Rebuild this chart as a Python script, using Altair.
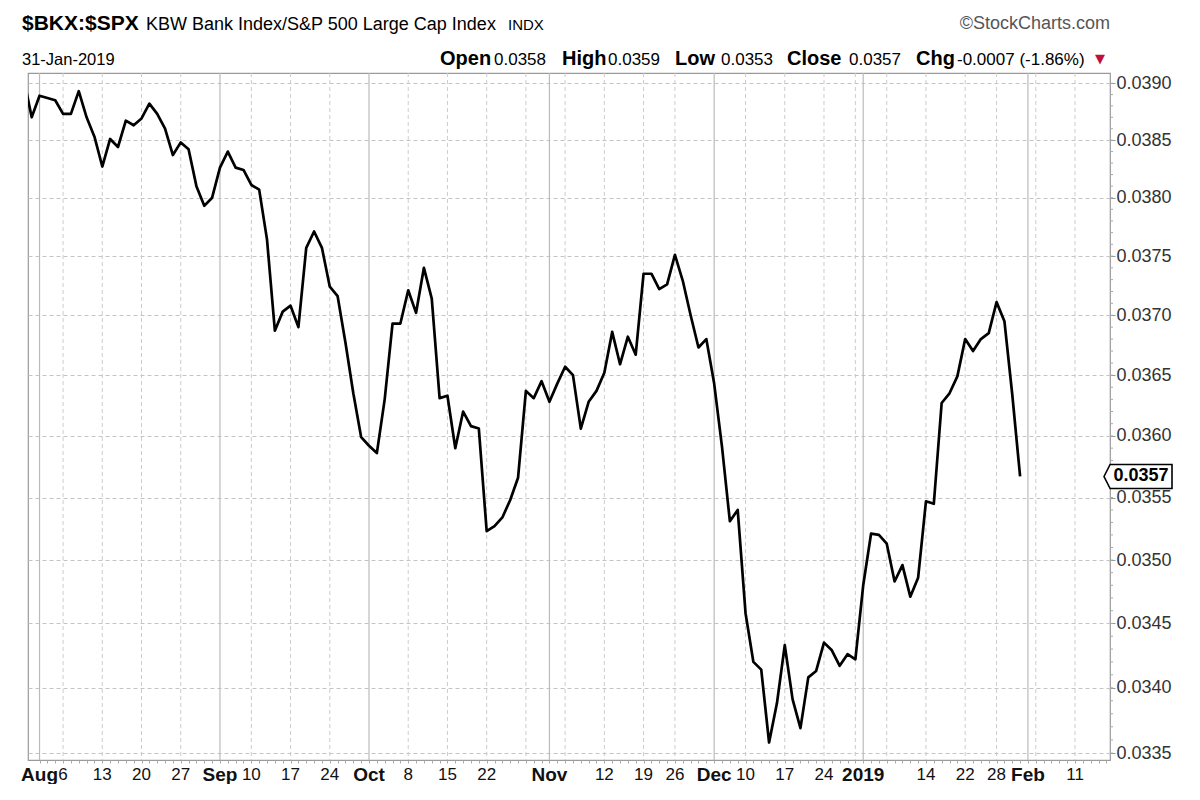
import altair as alt
import pandas as pd

# ---------------- data ----------------
holidays = ["2018-09-03", "2018-11-22", "2018-12-05", "2018-12-25", "2019-01-01", "2019-01-21"]
trading_days = [d.strftime("%Y-%m-%d") for d in pd.bdate_range("2018-07-30", "2019-01-31")
                if d.strftime("%Y-%m-%d") not in holidays]

# $BKX:$SPX ratio, Jul 30 2018 .. Jan 31 2019 (one value per trading day)
ratio = [
    0.03904, 0.03870,
    # Aug
    0.03889, 0.03887, 0.03885, 0.03873, 0.03873, 0.03893, 0.03870, 0.03853, 0.03827, 0.03851,
    0.03844, 0.03867, 0.03863, 0.03869, 0.03882, 0.03873, 0.03860, 0.03837, 0.03848, 0.03842,
    0.03810, 0.03793, 0.03800,
    # Sep
    0.03826, 0.03840, 0.03826, 0.03824, 0.03811, 0.03807, 0.03764, 0.03687, 0.03703, 0.03708,
    0.03690, 0.03757, 0.03771, 0.03757, 0.03724, 0.03716, 0.03677, 0.03635, 0.03599,
    # Oct
    0.03592, 0.03586, 0.03630, 0.03693, 0.03693, 0.03721, 0.03702, 0.03740, 0.03714, 0.03631,
    0.03633, 0.03590, 0.03620, 0.03608, 0.03606, 0.03523, 0.03527, 0.03534, 0.03548, 0.03566,
    0.03637, 0.03631, 0.03645,
    # Nov
    0.03628, 0.03643, 0.03657, 0.03650, 0.03606, 0.03628, 0.03637, 0.03652, 0.03686, 0.03659,
    0.03682, 0.03667, 0.03735, 0.03735, 0.03722, 0.03726, 0.03751, 0.03729, 0.03700, 0.03673,
    0.03680,
    # Dec
    0.03643, 0.03591, 0.03531, 0.03540, 0.03458, 0.03420, 0.03414, 0.03358, 0.03388, 0.03433,
    0.03391, 0.03369, 0.03408, 0.03413, 0.03435, 0.03429, 0.03417, 0.03426, 0.03422,
    # Jan
    0.03480, 0.03521, 0.03520, 0.03513, 0.03483, 0.03496, 0.03471, 0.03486, 0.03547, 0.03545,
    0.03627, 0.03635, 0.03649, 0.03680, 0.03670, 0.03680, 0.03685, 0.03711, 0.03695, 0.03634,
    0.03567,
]
day_index = list(range(-2, len(trading_days) - 2))  # Aug 1 2018 = 0 (trading-day index)

tick_idx = [0, 3, 8, 13, 18, 23, 27, 32, 37, 42, 47, 52, 57, 65, 72, 77, 81,
            86, 90, 95, 100, 105, 113, 118, 122, 126, 132]
tick_text = ["Aug", "6", "13", "20", "27", "Sep", "10", "17", "24", "Oct", "8", "15", "22",
             "Nov", "12", "19", "26", "Dec", "10", "17", "24", "2019", "14", "22", "28", "Feb", "11"]
month_idx = [0, 23, 42, 65, 86, 105, 126]
week_idx = [3, 8, 13, 18, 27, 32, 37, 47, 52, 57, 62, 67, 72, 77, 81, 90, 95, 100, 104,
            108, 113, 118, 122, 127, 132]
y_major = [0.0335, 0.0340, 0.0345, 0.0350, 0.0355, 0.0360, 0.0365, 0.0370, 0.0375, 0.0380, 0.0385, 0.0390]
y_minor = [round(0.0335 + k * 0.0001, 4) for k in range(56)]

df = pd.DataFrame({"date": trading_days, "i": day_index, "v": ratio})
ticks_df = pd.DataFrame({"i": tick_idx, "t": tick_text})
month_ticks = ticks_df[ticks_df["i"].isin(month_idx)]
day_ticks = ticks_df[~ticks_df["i"].isin(month_idx)]

# ---------------- style ----------------
FONT = "Liberation Sans, Arial, sans-serif"
W, H = 1082, 687
xscale = alt.Scale(domain=[-1.47, 136.46], nice=False, zero=False)
yscale = alt.Scale(type="log", domain=[0.033447, 0.039091], nice=False, zero=False)

XAXIS = alt.Axis(values=list(range(0, 137)), labels=False, title=None, tickSize=3,
                 tickColor="#aaa", domain=False, grid=False)
YAXIS = alt.Axis(orient="right", values=y_major, format=".4f", title=None,
                 labelFont=FONT, labelFontSize=18, labelColor="#333",
                 tickSize=5, tickColor="#999", labelPadding=1, domain=False,
                 grid=True, gridDash=[4, 3], gridColor="#c4c4c4", gridWidth=1)


def X():
    return alt.X("i:Q", scale=xscale, axis=XAXIS)


def Y():
    return alt.Y("v:Q", scale=yscale, axis=YAXIS)


week_rules = alt.Chart(pd.DataFrame({"i": week_idx})).mark_rule(
    color="#cccccc", strokeWidth=1, strokeDash=[4, 3]
).encode(x=X(), y=alt.value(0), y2=alt.value(H))

month_rules = alt.Chart(pd.DataFrame({"i": month_idx})).mark_rule(
    color="#bbbbbb", strokeWidth=1.2
).encode(x=X(), y=alt.value(0), y2=alt.value(H))

line = alt.Chart(df).mark_line(color="black", strokeWidth=2.7, clip=True, strokeJoin="round").encode(
    x=X(), y=Y()
)

minor_ticks = alt.Chart(pd.DataFrame({"v": y_minor})).mark_rule(color="#aaa").encode(
    y=Y(), x=alt.value(W), x2=alt.value(W + 3)
)

day_labels = alt.Chart(day_ticks).mark_text(
    fontSize=17, font=FONT, baseline="middle", color="#111"
).encode(x=X(), y=alt.value(702), text="t:N")
month_labels = alt.Chart(month_ticks).mark_text(
    fontSize=19, font=FONT, fontWeight="bold", baseline="middle", color="#111"
).encode(x=X(), y=alt.value(702), text="t:N")

last = df.tail(1)
box_path = "M-1,0 L-0.82,-0.353 L1,-0.353 L1,0.353 L-0.82,0.353 Z"
close_box = alt.Chart(last).mark_point(
    shape=box_path, size=4624, filled=True, fill="white", stroke="black", strokeWidth=1.6, opacity=1
).encode(x=alt.value(1110), y=Y())
close_text = alt.Chart(last).mark_text(
    font=FONT, fontWeight="bold", fontSize=18, align="center", baseline="middle"
).encode(x=alt.value(1113), y=Y(), text=alt.Text("v:Q", format=".4f"))


def label(text, x, y, size, weight="normal", align="left", color="#000", font=FONT):
    return alt.Chart(pd.DataFrame({"t": [text]})).mark_text(
        align=align, baseline="alphabetic", fontSize=size, fontWeight=weight, font=font, color=color
    ).encode(x=alt.value(x), y=alt.value(y), text="t:N")


header = [
    label("$BKX:$SPX", -6, -43, 21, "bold"),
    label("KBW Bank Index/S&P 500 Large Cap Index", 118, -43, 18),
    label("INDX", 480, -43, 15),
    label("\u00a9StockCharts.com", 1082, -44, 18, align="right", color="#555"),
    label("31-Jan-2019", -6, -8, 16.5),
    label("Open", 412, -8, 20, "bold"),
    label("0.0358", 466, -8, 17),
    label("High", 534, -8, 20, "bold"),
    label("0.0359", 580, -8, 17),
    label("Low", 647, -8, 20, "bold"),
    label("0.0353", 693, -8, 17),
    label("Close", 759, -8, 20, "bold"),
    label("0.0357", 821, -8, 17),
    label("Chg", 888, -8, 20, "bold"),
    label("-0.0007 (-1.86%)", 929, -8, 17),
    label("\u25bc", 1072, -10, 13, align="center", color="#c0103a", font="DejaVu Sans"),
]

chart = alt.layer(
    week_rules, month_rules, line, minor_ticks, day_labels, month_labels, close_box, close_text, *header
).properties(
    width=W, height=H,
    autosize=alt.AutoSizeParams(type="none"),
    padding={"left": 20, "top": 65, "right": 78, "bottom": 24},
    background="white",
).configure_view(stroke="#9a9a9a", strokeWidth=1.2)

chart.save("out.html", embed_options={"renderer": "svg", "actions": False})
